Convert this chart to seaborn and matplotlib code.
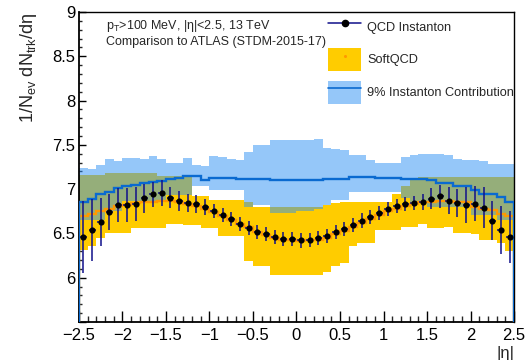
import numpy as np
import pandas as pd
import matplotlib
matplotlib.use("Agg")
import matplotlib.pyplot as plt
from matplotlib.ticker import MultipleLocator, FuncFormatter
from matplotlib.patches import Patch
from matplotlib.lines import Line2D
from matplotlib.legend_handler import HandlerTuple
import seaborn as sns

# 50 bins of width 0.1 in |eta| from -2.5 to 2.5
ETA_EDGES = np.round(np.linspace(-2.5, 2.5, 51), 2)
ETA_CENTERS = np.round(0.5 * (ETA_EDGES[:-1] + ETA_EDGES[1:]), 3)

# QCD instanton sample: 1/Nev dNtrk/deta with its uncertainty
qcd_inst = [6.46, 6.535, 6.63, 6.74, 6.82, 6.82, 6.83, 6.895, 6.94, 6.955,
            6.905, 6.865, 6.84, 6.835, 6.80, 6.755, 6.71, 6.66, 6.61, 6.565,
            6.52, 6.495, 6.456, 6.44, 6.44, 6.42, 6.43, 6.445, 6.47, 6.515,
            6.55, 6.595, 6.645, 6.685, 6.735, 6.775, 6.805, 6.83, 6.84, 6.85,
            6.89, 6.92, 6.87, 6.84, 6.82, 6.835, 6.79, 6.645, 6.535, 6.46]
qcd_inst_err = [0.41, 0.35, 0.27, 0.20, 0.19, 0.19, 0.19, 0.16, 0.14, 0.15,
                0.12, 0.11, 0.10, 0.10, 0.09, 0.08, 0.08, 0.08, 0.08, 0.08,
                0.08, 0.08, 0.08, 0.08, 0.08, 0.08, 0.08, 0.08, 0.08, 0.08,
                0.08, 0.08, 0.08, 0.08, 0.08, 0.08, 0.08, 0.08, 0.08, 0.09,
                0.12, 0.13, 0.15, 0.16, 0.20, 0.20, 0.23, 0.22, 0.27, 0.29]

# SoftQCD prediction: central value and band edges
softqcd = [6.70, 6.72, 6.75, 6.78, 6.81, 6.82, 6.84, 6.85, 6.86, 6.87,
           6.87, 6.86, 6.83, 6.81, 6.78, 6.74, 6.70, 6.65, 6.61, 6.57,
           6.52, 6.48, 6.45, 6.43, 6.42, 6.41, 6.42, 6.43, 6.45, 6.49,
           6.53, 6.57, 6.62, 6.66, 6.71, 6.75, 6.78, 6.81, 6.83, 6.85,
           6.86, 6.87, 6.87, 6.86, 6.85, 6.80, 6.77, 6.76, 6.72, 6.70]
softqcd_hi = [7.16, 7.16, 7.16, 7.18, 7.18, 7.18, 7.18, 7.18, 7.18, 7.15,
              7.15, 7.15, 7.15, 6.92, 6.92, 6.88, 6.88, 6.88, 6.88, 6.85,
              6.80, 6.80, 6.80, 6.80, 6.80, 6.80, 6.80, 6.80, 6.82, 6.84,
              6.85, 6.85, 6.85, 6.85, 6.86, 6.86, 6.94, 7.03, 7.10, 7.14,
              7.14, 7.14, 7.14, 7.14, 7.14, 7.14, 7.14, 7.14, 7.14, 7.14]
softqcd_lo = [6.31, 6.36, 6.45, 6.505, 6.505, 6.505, 6.56, 6.56, 6.56, 6.56,
              6.61, 6.61, 6.59, 6.59, 6.56, 6.56, 6.47, 6.47, 6.47, 6.19,
              6.13, 6.13, 6.03, 6.03, 6.03, 6.03, 6.03, 6.03, 6.06, 6.13,
              6.17, 6.36, 6.39, 6.39, 6.54, 6.54, 6.54, 6.57, 6.57, 6.61,
              6.56, 6.56, 6.57, 6.51, 6.51, 6.49, 6.42, 6.42, 6.39, 6.30]

# 9% instanton contribution: central value and band edges
inst9 = [6.86, 6.89, 6.94, 6.97, 7.01, 7.03, 7.05, 7.07, 7.08, 7.09,
         7.11, 7.13, 7.15, 7.15, 7.10, 7.13, 7.13, 7.13, 7.12, 7.12,
         7.12, 7.12, 7.10, 7.10, 7.10, 7.10, 7.10, 7.10, 7.12, 7.11,
         7.11, 7.14, 7.14, 7.14, 7.13, 7.13, 7.13, 7.11, 7.11, 7.11,
         7.10, 7.07, 7.07, 7.04, 7.04, 6.99, 6.95, 6.95, 6.91, 6.86]
inst9_hi = [7.24, 7.23, 7.27, 7.34, 7.32, 7.35, 7.35, 7.34, 7.37, 7.34,
            7.30, 7.30, 7.35, 7.27, 7.26, 7.37, 7.36, 7.34, 7.33, 7.42,
            7.50, 7.50, 7.55, 7.55, 7.55, 7.55, 7.56, 7.57, 7.47, 7.45,
            7.44, 7.38, 7.38, 7.33, 7.29, 7.29, 7.30, 7.36, 7.38, 7.40,
            7.40, 7.40, 7.39, 7.34, 7.33, 7.33, 7.32, 7.28, 7.28, 7.28]
inst9_lo = [6.65, 6.65, 6.65, 6.75, 6.75, 6.87, 6.87, 6.87, 6.87, 6.87,
            6.93, 6.93, 6.93, 7.03, 7.03, 6.99, 6.99, 6.99, 6.99, 6.80,
            6.82, 6.82, 6.73, 6.73, 6.73, 6.75, 6.75, 6.77, 6.82, 6.88,
            6.88, 6.97, 6.97, 6.97, 6.97, 6.97, 6.97, 6.90, 6.85, 6.85,
            6.80, 6.80, 6.80, 6.80, 6.80, 6.71, 6.71, 6.71, 6.65, 6.65]

YMIN, YMAX = 5.5, 9.0

GOLD = "#FFCC00"
ORANGE = "#FF9900"
BAND_BLUE = "#2D91F5"
LINE_BLUE = "#0A6AD0"
NAVY = "#10108A"

sns.set_theme(style="ticks")
plt.rcParams["font.family"] = ["Liberation Sans", "DejaVu Sans"]
plt.rcParams["mathtext.fontset"] = "custom"
plt.rcParams["mathtext.rm"] = "Liberation Sans"
plt.rcParams["mathtext.it"] = "Liberation Sans:italic"

df = pd.DataFrame({"eta": ETA_CENTERS, "dndeta": qcd_inst, "err": qcd_inst_err})

fig = plt.figure(figsize=(5.28, 3.6), dpi=100)
ax = fig.add_axes([0.1496, 0.1056, 0.8239, 0.8611])

# SoftQCD band and central value
ax.stairs(softqcd_hi, ETA_EDGES, baseline=softqcd_lo, fill=True,
          color=GOLD, lw=0, zorder=1)
# 9% instanton band (semi-transparent over the SoftQCD band)
ax.stairs(inst9_hi, ETA_EDGES, baseline=inst9_lo, fill=True,
          color=BAND_BLUE, alpha=0.5, lw=0, zorder=2)
ax.stairs(softqcd, ETA_EDGES, color=ORANGE, lw=1.7, zorder=3)
ax.stairs(inst9, ETA_EDGES, baseline=YMIN, color=LINE_BLUE, lw=1.7, zorder=4)

# QCD instanton points with errors
ax.errorbar(df["eta"], df["dndeta"], yerr=df["err"], xerr=0.04, fmt="none",
            ecolor=NAVY, elinewidth=1.1, capsize=0, zorder=5)
sns.scatterplot(data=df, x="eta", y="dndeta", ax=ax, color="black",
                s=20, edgecolor="black", linewidth=0, zorder=6, legend=False)

ax.set_xlim(ETA_EDGES[0], ETA_EDGES[-1])
ax.set_ylim(YMIN, YMAX)
ax.xaxis.set_major_locator(MultipleLocator(0.5))
ax.xaxis.set_minor_locator(MultipleLocator(0.1))
ax.yaxis.set_major_locator(MultipleLocator(0.5))
ax.yaxis.set_minor_locator(MultipleLocator(0.1))
fmt = FuncFormatter(lambda v, p: ("%g" % v).replace("-", "\u2212"))
ax.xaxis.set_major_formatter(fmt)
ax.yaxis.set_major_formatter(FuncFormatter(
    lambda v, p: "" if abs(v - YMIN) < 1e-6 else "%g" % v))

ax.tick_params(axis="x", which="major", direction="in", length=8, width=1,
               labelsize=12, pad=4.5, colors="black")
ax.tick_params(axis="x", which="minor", direction="in", length=4, width=1)
ax.tick_params(axis="y", which="major", direction="in", length=5, width=1,
               labelsize=12, pad=2.5, colors="black")
ax.tick_params(axis="y", which="minor", direction="in", length=2.5, width=1)
for side in ["top", "right", "left", "bottom"]:
    ax.spines[side].set_color("black")
    ax.spines[side].set_linewidth(1.0)
ax.spines["left"].set_linewidth(1.3)
ax.spines["bottom"].set_linewidth(1.3)

ax.set_xlabel("|η|", loc="right", fontsize=12, labelpad=2)
ax.set_ylabel(r"1/N$_{\mathregular{ev}}$ dN$_{\mathregular{trk}}$/dη",
              loc="top", fontsize=13, labelpad=10)

ax.text(0.062, 0.956, r"$\mathregular{p_{T}}$>100 MeV, |η|<2.5, 13 TeV",
        transform=ax.transAxes, fontsize=9, va="center", ha="left")
ax.text(0.062, 0.903, "Comparison to ATLAS (STDM-2015-17)",
        transform=ax.transAxes, fontsize=9, va="center", ha="left")

h_inst = Line2D([], [], color=NAVY, lw=1.1, marker="o", markersize=4.5,
                markerfacecolor="black", markeredgecolor="black")
h_soft = (Patch(facecolor=GOLD, edgecolor="none"),
          Line2D([], [], ls="none", marker="o", markersize=1.2, color=ORANGE))
h_9 = (Patch(facecolor=BAND_BLUE, alpha=0.5, edgecolor="none"),
       Line2D([], [], color=LINE_BLUE, lw=1.2))
ax.legend([h_inst, h_soft, h_9],
          ["QCD Instanton", "SoftQCD", "9% Instanton Contribution"],
          handler_map={tuple: HandlerTuple(ndivide=1, pad=0)},
          loc="upper left", bbox_to_anchor=(0.5724, 0.9887),
          frameon=False, fontsize=9.2, borderpad=0, borderaxespad=0,
          handlelength=2.6, handleheight=2.4, handletextpad=0.47,
          labelspacing=0.74)

fig.savefig("out.png", dpi=100)
